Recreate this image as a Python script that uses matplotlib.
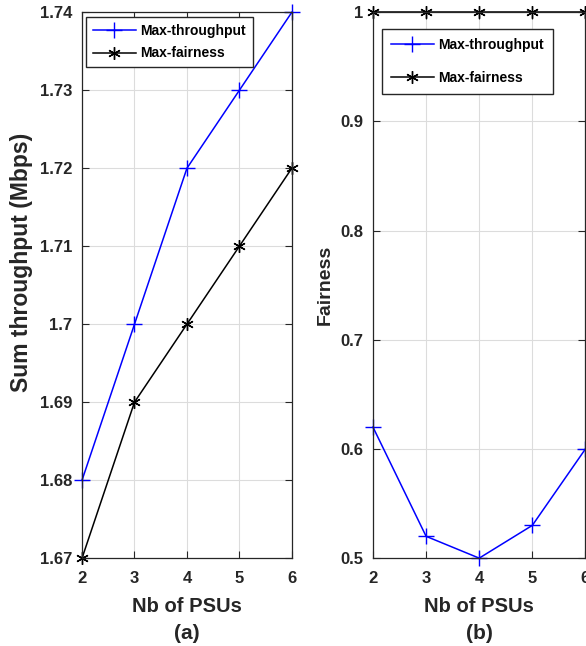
import matplotlib
matplotlib.use("Agg")
import matplotlib.pyplot as plt

nb_psus = [2, 3, 4, 5, 6]
thr_maxthroughput = [1.68, 1.70, 1.72, 1.73, 1.74]
thr_maxfairness = [1.67, 1.69, 1.70, 1.71, 1.72]
fair_maxthroughput = [0.62, 0.52, 0.50, 0.53, 0.60]
fair_maxfairness = [1.0, 1.0, 1.0, 1.0, 1.0]

thr_ticks = [1.67, 1.68, 1.69, 1.70, 1.71, 1.72, 1.73, 1.74]
thr_ticklabels = ["1.67", "1.68", "1.69", "1.7", "1.71", "1.72", "1.73", "1.74"]
fair_ticks = [0.5, 0.6, 0.7, 0.8, 0.9, 1.0]
fair_ticklabels = ["0.5", "0.6", "0.7", "0.8", "0.9", "1"]

plt.rcParams["font.family"] = ["Liberation Sans", "DejaVu Sans"]
plt.rcParams["font.weight"] = "bold"

fig = plt.figure(figsize=(5.86, 6.46), dpi=100)
ax1 = fig.add_axes([0.140, 0.136, 0.358, 0.845])
ax2 = fig.add_axes([0.6365, 0.136, 0.3625, 0.845])

edge = "#262626"
asterisk = (6, 2, 0)


def style(ax):
    ax.grid(True, color="#dcdcdc", linewidth=0.8)
    ax.set_axisbelow(True)
    for s in ax.spines.values():
        s.set_color(edge)
        s.set_linewidth(0.9)
    ax.tick_params(direction="in", top=True, right=True, length=5,
                   labelsize=12, colors=edge, width=0.8)
    ax.tick_params(axis="x", pad=9)
    ax.tick_params(axis="y", pad=7)
    ax.set_xticks(nb_psus)
    ax.set_xlim(2, 6)
    for lab in ax.get_xticklabels() + ax.get_yticklabels():
        lab.set_fontweight("bold")
    ax.set_xlabel("Nb of PSUs", fontsize=14.5, fontweight="bold", color=edge,
                  labelpad=8)


# (a) sum throughput
ax1.plot(nb_psus, thr_maxthroughput, color="#0000ff", marker="+",
         markersize=11, linewidth=1.1, label="Max-throughput", clip_on=False)
ax1.plot(nb_psus, thr_maxfairness, color="black", marker=asterisk,
         markersize=9, linewidth=1.1, label="Max-fairness", clip_on=False)
ax1.set_ylim(1.67, 1.74)
ax1.set_yticks(thr_ticks)
ax1.set_yticklabels(thr_ticklabels)
style(ax1)
ax1.set_ylabel("Sum throughput (Mbps)", fontsize=16.5, fontweight="bold",
               color=edge)
ax1.yaxis.set_label_coords(-0.235, 0.542)
ax1.legend(loc="upper left", bbox_to_anchor=(0.019, 0.991), borderaxespad=0,
           prop={"weight": "bold", "size": 10}, fancybox=False,
           edgecolor=edge, framealpha=1, handlelength=3.1, handletextpad=0.3,
           labelspacing=0.6, borderpad=0.5)
ax1.text(0.5, -0.138, "(a)", transform=ax1.transAxes, ha="center",
         va="center", fontsize=15, fontweight="bold", color=edge)

# (b) fairness
ax2.plot(nb_psus, fair_maxthroughput, color="#0000ff", marker="+",
         markersize=11, linewidth=1.1, label="Max-throughput", clip_on=False)
ax2.plot(nb_psus, fair_maxfairness, color="black", marker=asterisk,
         markersize=9, linewidth=1.1, label="Max-fairness", clip_on=False)
ax2.set_ylim(0.5, 1.0)
ax2.set_yticks(fair_ticks)
ax2.set_yticklabels(fair_ticklabels)
style(ax2)
ax2.set_ylabel("Fairness", fontsize=14, fontweight="bold", color=edge)
ax2.yaxis.set_label_coords(-0.184, 0.5)
ax2.legend(loc="upper left", bbox_to_anchor=(0.042, 0.969), borderaxespad=0,
           prop={"weight": "bold", "size": 10}, fancybox=False,
           edgecolor=edge, framealpha=1, handlelength=3.1, handletextpad=0.3,
           labelspacing=1.35, borderpad=0.65)
ax2.text(0.5, -0.138, "(b)", transform=ax2.transAxes, ha="center",
         va="center", fontsize=15, fontweight="bold", color=edge)

fig.savefig("out.png", dpi=100)
